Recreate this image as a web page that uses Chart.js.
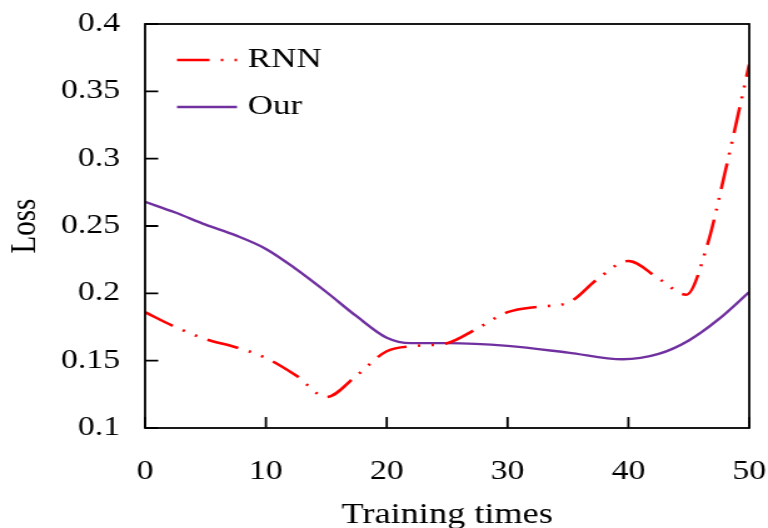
<!DOCTYPE html>
<html>
<head>
<meta charset="utf-8">
<script src="https://cdn.jsdelivr.net/npm/chart.js@4.4.0/dist/chart.umd.min.js"></script>
<style>
  html, body { margin: 0; padding: 0; background: #fff; overflow: hidden; }
  /* the original figure is stretched sideways, so the canvas is too */
  #wrap { width: 614px; height: 528px; transform: scaleX(1.2508); transform-origin: 0 0; }
</style>
</head>
<body>
<div id="wrap"><canvas id="lossChart" width="614" height="528"></canvas></div>
<script>
// RNN loss (red dash-dot-dot)
const rnnTimes = [0, 2.5, 5, 7.5, 10, 12.5, 15, 17.5, 20, 22.5, 25, 27.5, 30, 32.5, 35, 37.5, 40, 42.5, 44.8, 46.5, 48, 50];
const rnnLoss  = [0.186, 0.175, 0.166, 0.160, 0.152, 0.139, 0.123, 0.139, 0.157, 0.161, 0.163, 0.174, 0.186, 0.190, 0.193, 0.211, 0.224, 0.211, 0.199, 0.235, 0.290, 0.370];

// Our loss (purple solid)
const ourTimes = [0, 2.5, 5, 7.5, 10, 12.5, 15, 17.5, 20, 22, 25, 30, 35, 39.5, 42.5, 45, 47.5, 50];
const ourLoss  = [0.268, 0.260, 0.251, 0.243, 0.233, 0.218, 0.201, 0.183, 0.167, 0.163, 0.163, 0.161, 0.156, 0.151, 0.155, 0.165, 0.181, 0.201];

const xTicks = [0, 10, 20, 30, 40, 50];
const yTicks = [0.1, 0.15, 0.2, 0.25, 0.3, 0.35, 0.4];
const yTickLabels = ['0.1', '0.15', '0.2', '0.25', '0.3', '0.35', '0.4'];

const serif = '"Liberation Serif", "Times New Roman", serif';

// box frame, inward ticks and the legend inside the plot
const frameAndLegend = {
  id: 'frameAndLegend',
  afterDraw(chart) {
    const { ctx, chartArea: a, scales: { x, y } } = chart;
    ctx.save();
    ctx.strokeStyle = '#000';
    ctx.lineWidth = 1.8;
    ctx.setLineDash([]);
    ctx.strokeRect(a.left, a.top, a.right - a.left, a.bottom - a.top);
    ctx.beginPath();
    y.ticks.forEach(t => {
      const py = y.getPixelForValue(t.value);
      ctx.moveTo(a.left, py);
      ctx.lineTo(a.left + 10.5, py);
    });
    x.ticks.forEach(t => {
      const px = x.getPixelForValue(t.value);
      ctx.moveTo(px, a.bottom);
      ctx.lineTo(px, a.bottom - 11);
    });
    ctx.stroke();

    // legend
    ctx.font = '28px ' + serif;
    ctx.textBaseline = 'middle';
    ctx.fillStyle = '#000';
    chart.data.datasets.forEach((ds, i) => {
      const ly = a.top + 36 + i * 47;
      ctx.beginPath();
      ctx.strokeStyle = ds.borderColor;
      ctx.lineWidth = ds.borderWidth;
      ctx.setLineDash(ds.borderDash || []);
      ctx.moveTo(a.left + 25.5, ly);
      ctx.lineTo(a.left + 73.5, ly);
      ctx.stroke();
      ctx.setLineDash([]);
      ctx.fillText(ds.label, a.left + 82, ly);
    });
    ctx.restore();
  }
};

new Chart(document.getElementById('lossChart'), {
  type: 'line',
  data: {
    datasets: [
      {
        label: 'RNN',
        data: rnnTimes.map((t, i) => ({ x: t, y: rnnLoss[i] })),
        borderColor: '#ff0000',
        borderWidth: 2.6,
        borderDash: [26, 9, 2, 9, 2, 9],
        pointRadius: 0,
        cubicInterpolationMode: 'monotone',
        fill: false
      },
      {
        label: 'Our',
        data: ourTimes.map((t, i) => ({ x: t, y: ourLoss[i] })),
        borderColor: '#7030a0',
        borderWidth: 2.4,
        pointRadius: 0,
        cubicInterpolationMode: 'monotone',
        fill: false
      }
    ]
  },
  options: {
    responsive: false,
    animation: false,
    layout: { autoPadding: false, padding: { top: 24, right: 15, bottom: 0, left: 0 } },
    plugins: {
      legend: { display: false },
      tooltip: { enabled: false }
    },
    scales: {
      x: {
        type: 'linear',
        min: 0,
        max: 50,
        afterFit: s => {
          s.height = 100;
          s.paddingLeft = 0;
          s.paddingRight = 0;
        },
        afterBuildTicks: s => { s.ticks = xTicks.map(v => ({ value: v })); },
        grid: { display: false, drawTicks: false },
        border: { display: false },
        ticks: { color: '#000', padding: 28, font: { family: serif, size: 27 } },
        title: {
          display: true,
          text: 'Training times',
          color: '#000',
          font: { family: serif, size: 29 },
          padding: { top: 0, bottom: -5 }
        }
      },
      y: {
        min: 0.1,
        max: 0.4,
        afterFit: s => {
          s.width = 116;
          s.paddingTop = 0;
          s.paddingBottom = 0;
        },
        afterBuildTicks: s => { s.ticks = yTicks.map(v => ({ value: v })); },
        grid: { display: false, drawTicks: false },
        border: { display: false },
        ticks: {
          color: '#000',
          padding: 20,
          font: { family: serif, size: 27 },
          callback: (v, i) => yTickLabels[i]
        },
        title: {
          display: true,
          text: 'Loss',
          color: '#000',
          font: { family: serif, size: 29 },
          padding: { top: 3, bottom: 0 }
        }
      }
    }
  },
  plugins: [frameAndLegend]
});
</script>
</body>
</html>
